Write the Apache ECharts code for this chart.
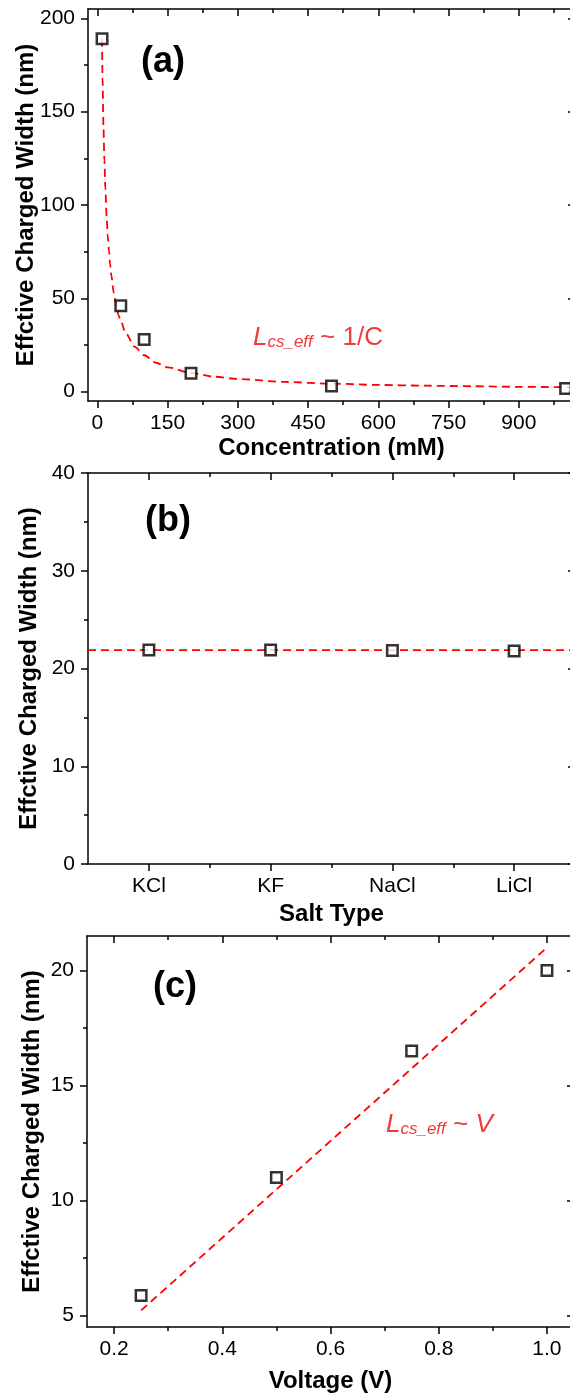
<!DOCTYPE html>
<html lang="en">

<head>
    <meta http-equiv="Content-Type" content="text/html;charset=UTF-8">
    <title>effective charged width</title>
    <script src="https://cdn.jsdelivr.net/npm/echarts@6/dist/echarts.min.js"></script>
    <style type="text/css">
        body {
            margin: 0;
            background: #fff;
        }

        #main {
            width: 570px;
            height: 1396px;
        }
    </style>
</head>

<body>
    <div id="main"></div>
</body>
<script>
    // (a) width vs concentration
    var conc = [10, 50, 100, 200, 500, 1000];
    var concWidth = [189, 46, 28, 9.8, 3.0, 1.7];
    // dashed 1/C fit
    var fitConc = [10, 11, 13, 15, 17, 20, 22, 25, 27, 30, 35, 40, 45, 50, 60, 80, 100, 125, 150, 200, 250, 300, 400, 500, 600, 700, 800, 900, 1020];
    var fitConcWidth = [189, 168, 142, 124, 109, 93, 84, 75, 68.5, 62, 53, 47, 41, 38, 31.5, 24, 19.5, 15.5, 13, 10, 8, 6.8, 5.2, 4.3, 3.6, 3.2, 2.9, 2.6, 2.3];
    var concTicks = [0, 150, 300, 450, 600, 750, 900];
    var concMinor = [75, 225, 375, 525, 675, 825, 975];
    var widthTicksA = [0, 50, 100, 150, 200];
    var widthMinorA = [25, 75, 125, 175];

    // (b) width vs salt type
    var salts = ['KCl', 'KF', 'NaCl', 'LiCl'];
    var saltWidth = [21.9, 21.9, 21.85, 21.8];
    var saltFit = 21.87;
    var saltTicks = [1, 2, 3, 4];
    var saltMinor = [1.5, 2.5, 3.5];
    var widthTicksB = [0, 10, 20, 30, 40];
    var widthMinorB = [5, 15, 25, 35];

    // (c) width vs voltage
    var voltage = [0.25, 0.5, 0.75, 1.0];
    var voltWidth = [5.87, 11.0, 16.5, 20.0];
    var fitVolt = [0.25, 1.0];
    var fitVoltWidth = [5.22, 21.0];
    var voltTicks = [0.2, 0.4, 0.6, 0.8, 1.0];
    var voltMinor = [0.3, 0.5, 0.7, 0.9];
    var widthTicksC = [5, 10, 15, 20];
    var widthMinorC = [7.5, 12.5, 17.5];

    var FONT = '"Liberation Sans", Arial, sans-serif';
    var RED = '#ff0000';
    var NOTE = '#ef3b3b';

    var pairs = function (xs, ys) {
        var res = [];
        for (var i = 0; i < xs.length; i++) {
            res.push([xs[i], ys[i]]);
        }
        return res;
    };

    // four axes per side pair: labelled side, its minor ticks, mirrored side, its minor ticks
    var boxAxes = function (dim, grid, min, max, major, minor, o) {
        var pos = dim === 'x' ? ['bottom', 'top'] : ['left', 'right'];
        var line = { color: '#000', width: 1.5 };
        var base = function (p) {
            return {
                type: 'value', gridIndex: grid, min: min, max: max, position: p,
                splitLine: { show: false },
                axisLine: { show: false, onZero: false, lineStyle: line },
                axisTick: { show: false },
                axisLabel: { show: false }
            };
        };
        var main = base(pos[0]);
        main.axisLine.show = true;
        main.axisTick = { show: true, customValues: major, length: 7, lineStyle: line };
        main.axisLabel = {
            show: true, customValues: major, margin: o.margin, fontSize: 21,
            color: '#000', fontFamily: FONT, formatter: o.formatter
        };
        main.name = o.name;
        main.nameLocation = 'middle';
        main.nameGap = o.nameGap;
        main.nameMoveOverlap = false;
        main.nameTextStyle = { fontSize: 24, fontWeight: 'bold', color: '#000', fontFamily: FONT };

        var mainMinor = base(pos[0]);
        mainMinor.axisTick = { show: true, customValues: minor, length: 4, lineStyle: line };

        // the right edge of the frame sits just outside the picture
        var mirror = base(pos[1]);
        mirror.axisLine.show = dim === 'x';
        mirror.axisTick = { show: true, inside: true, customValues: major, length: 7, lineStyle: line };

        var mirrorMinor = base(pos[1]);
        mirrorMinor.axisTick = { show: true, inside: true, customValues: minor, length: 4, lineStyle: line };

        return [main, mainMinor, mirror, mirrorMinor];
    };

    var squares = function (idx, data) {
        return {
            type: 'scatter', xAxisIndex: idx, yAxisIndex: idx, data: data,
            symbol: 'rect', symbolSize: 10.5, z: 5,
            itemStyle: { color: '#fff', borderColor: '#000', borderWidth: 2.5 }
        };
    };

    var dashed = function (idx, data, smooth) {
        return {
            type: 'line', xAxisIndex: idx, yAxisIndex: idx, data: data,
            showSymbol: false, smooth: smooth, smoothMonotone: 'x', z: 3,
            lineStyle: { color: RED, width: 1.8, type: [8, 5] }
        };
    };

    var title = function (text, x, y) {
        return {
            type: 'text', x: x, y: y,
            style: {
                text: text, fill: '#000', font: 'bold 36px ' + FONT,
                textVerticalAlign: 'middle', verticalAlign: 'middle'
            }
        };
    };

    var note = function (rest, restItalic, x, y) {
        return {
            type: 'text', x: x, y: y,
            style: {
                text: '{L|L}{s|cs_eff}{t| ~ }{r|' + rest + '}',
                fill: NOTE, font: '26px ' + FONT,
                textVerticalAlign: 'middle', verticalAlign: 'middle',
                rich: {
                    L: { fontSize: 26, fontStyle: 'italic', fontFamily: FONT, fill: NOTE, color: NOTE, lineHeight: 28, verticalAlign: 'bottom' },
                    s: { fontSize: 17, fontStyle: 'italic', fontFamily: FONT, fill: NOTE, color: NOTE, lineHeight: 12, verticalAlign: 'bottom' },
                    t: { fontSize: 26, fontFamily: FONT, fill: NOTE, color: NOTE, lineHeight: 28, verticalAlign: 'bottom' },
                    r: { fontSize: 26, fontStyle: restItalic ? 'italic' : 'normal', fontFamily: FONT, fill: NOTE, color: NOTE, lineHeight: 28, verticalAlign: 'bottom' }
                }
            }
        };
    };

    var xAxes = [].concat(
        boxAxes('x', 0, -20, 1020, concTicks, concMinor, { name: 'Concentration (mM)', nameGap: 35, margin: 12 }),
        boxAxes('x', 1, 0.5, 4.5, saltTicks, saltMinor, {
            name: 'Salt Type', nameGap: 38, margin: 12,
            formatter: function (v) { return salts[Math.round(v) - 1]; }
        }),
        boxAxes('x', 2, 0.15, 1.05, voltTicks, voltMinor, {
            name: 'Voltage (V)', nameGap: 42, margin: 12,
            formatter: function (v) { return v.toFixed(1); }
        })
    );
    var yAxes = [].concat(
        boxAxes('y', 0, -5, 205, widthTicksA, widthMinorA, { name: 'Effctive Charged Width (nm)', nameGap: 50, margin: 13 }),
        boxAxes('y', 1, 0, 40, widthTicksB, widthMinorB, { name: 'Effctive Charged Width (nm)', nameGap: 47, margin: 13 }),
        boxAxes('y', 2, 4.5, 21.5, widthTicksC, widthMinorC, { name: 'Effctive Charged Width (nm)', nameGap: 43, margin: 13 })
    );

    var saltPos = [];
    for (var i = 0; i < salts.length; i++) {
        saltPos.push(i + 1);
    }

    option = {
        backgroundColor: '#fff',
        animation: false,
        textStyle: { fontFamily: FONT },
        grid: [
            { left: 88, top: 9, width: 487, height: 392, outerBoundsMode: 'none', containLabel: false },
            { left: 88, top: 473, width: 487, height: 391, outerBoundsMode: 'none', containLabel: false },
            { left: 87, top: 936, width: 487, height: 391, outerBoundsMode: 'none', containLabel: false }
        ],
        xAxis: xAxes,
        yAxis: yAxes,
        series: [
            dashed(0, pairs(fitConc, fitConcWidth), 0.3),
            squares(0, pairs(conc, concWidth)),
            dashed(4, [[0.5, saltFit], [4.5, saltFit]], false),
            squares(4, pairs(saltPos, saltWidth)),
            dashed(8, pairs(fitVolt, fitVoltWidth), false),
            squares(8, pairs(voltage, voltWidth))
        ],
        graphic: [
            title('(a)', 141, 62),
            title('(b)', 145, 521),
            title('(c)', 153, 987),
            note('1/C', false, 253, 337),
            note('V', true, 386, 1124)
        ]
    };

    var myChart = echarts.init(document.getElementById('main'));
    myChart.setOption(option);
</script>

</html>
